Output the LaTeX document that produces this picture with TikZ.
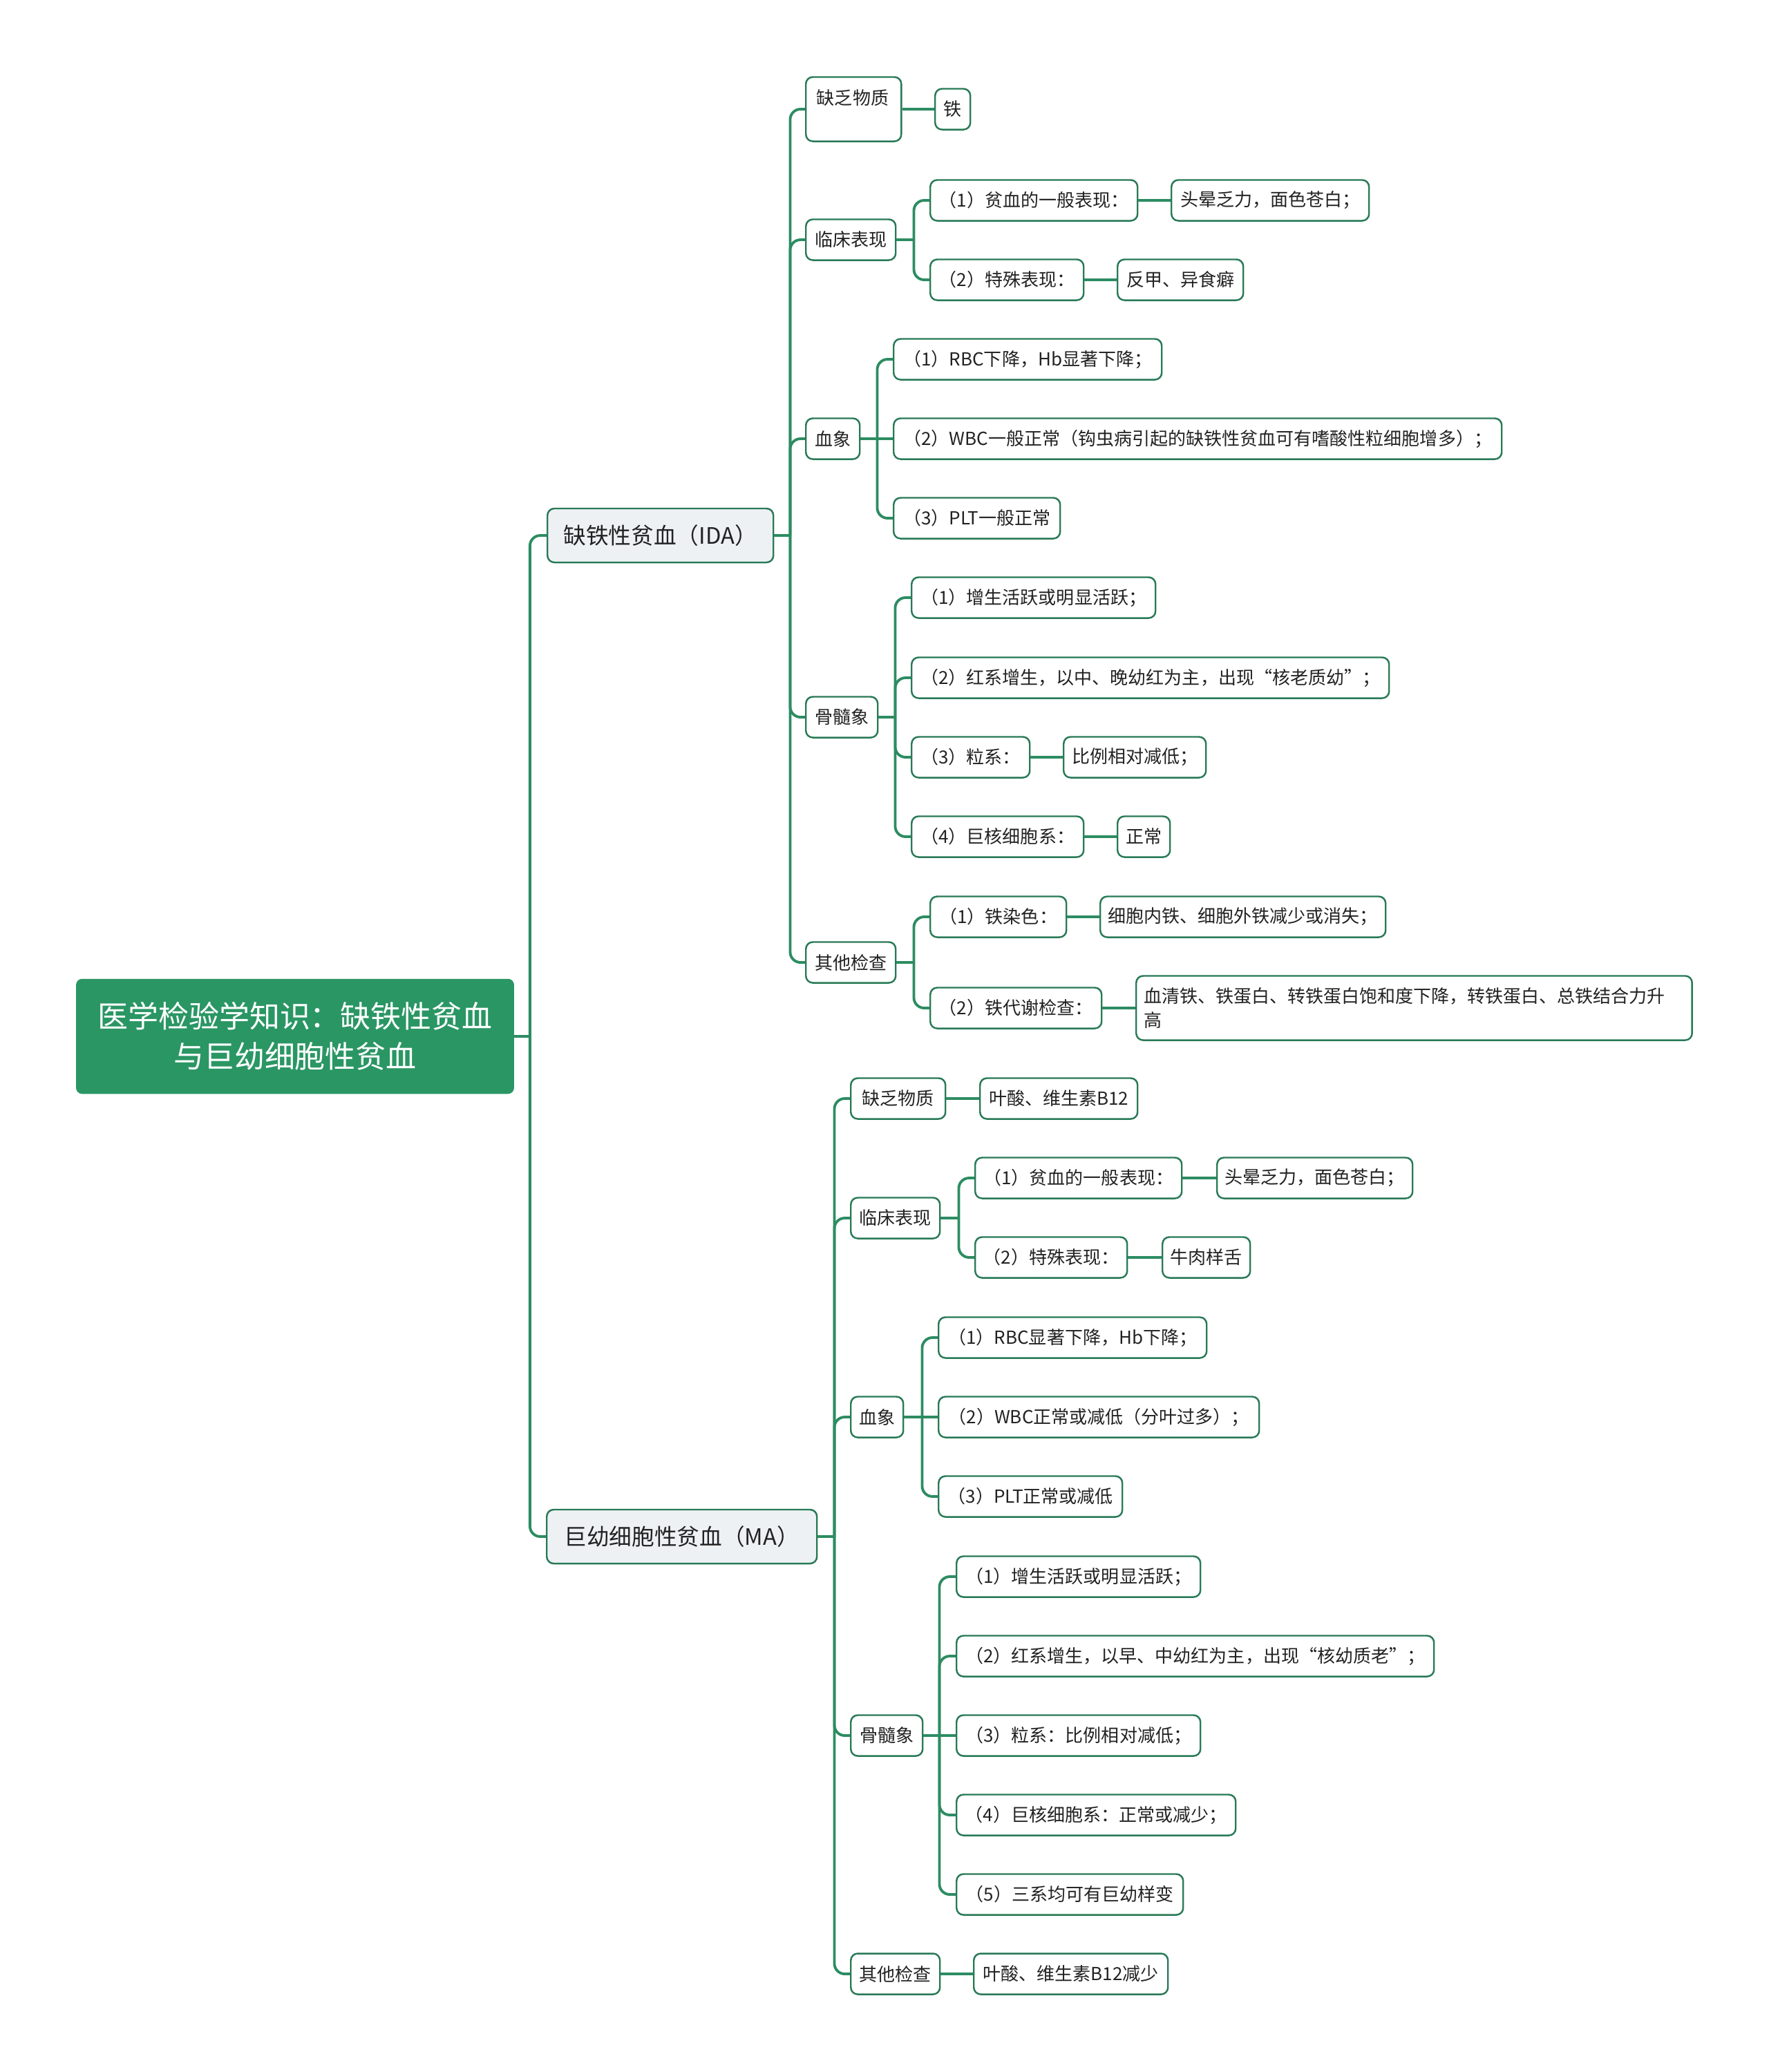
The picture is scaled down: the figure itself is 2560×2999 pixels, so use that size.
\documentclass[tikz,border=0pt]{standalone}
\usepackage{fontspec}
\setmainfont{Noto Sans CJK SC}
\definecolor{linegreen}{RGB}{45,140,98}
\definecolor{bordergreen}{RGB}{40,122,86}
\definecolor{rootgreen}{RGB}{42,150,100}
\definecolor{lvlgrey}{RGB}{238,241,244}
\definecolor{textc}{RGB}{34,34,34}
\tikzset{
  box/.style={draw=bordergreen, line width=0.7pt, fill=white, rounded corners=0.1cm,
    inner xsep=0pt, inner ysep=0pt, minimum height=0.59cm, anchor=west,
    font=\fontsize{7.4pt}{9pt}\selectfont, text=textc},
  lvlone/.style={box, fill=lvlgrey, minimum height=0.78cm, font=\fontsize{9.3pt}{11pt}\selectfont},
  rootbox/.style={fill=rootgreen, draw=rootgreen, rounded corners=0.08cm, text=white,
    minimum width=6.32cm, minimum height=1.65cm, align=center,
    font=\fontsize{12.5pt}{16.5pt}\selectfont},
  plaintxt/.style={font=\fontsize{7.4pt}{9pt}\selectfont, text=textc, inner sep=0pt},
  link/.style={draw=linegreen, line width=1.1pt},
  curvelink/.style={link, rounded corners=0.15cm},
}
\newcommand\nd[6][]{\node[box,#1,minimum width=#5*0.01cm] (#2) at (#3,#4) {#6};}
\newcommand\fork[3]{%
  \path (#1.east) ++(#2,0) coordinate (#1j);
  \draw[link] (#1.east) -- (#1j);
  \foreach \c in {#3} {\draw[curvelink] (#1j) |- (\c.west);}
}
\begin{document}
\begin{tikzpicture}[x=0.01cm,y=-0.01cm]
\useasboundingbox (0,0) rectangle (2560,2999);
\fill[white] (0,0) rectangle (2560,2999);

% root
\node[rootbox] (root) at (427,1500) {医学检验学知识：缺铁性贫血\\与巨幼细胞性贫血};

% level 1
\nd[lvlone]{ida}{791}{775}{327}{缺铁性贫血（IDA）}
\nd[lvlone]{ma}{790}{2224}{391}{巨幼细胞性贫血（MA）}

% ---------- IDA ----------
\node[box, minimum width=1.38cm, minimum height=0.93cm] (i1) at (1165,158) {};
\node[plaintxt] (i1t) at (1234,142) {缺乏物质};
\nd{i1a}{1352}{158}{51}{铁}

\nd{i2}{1165}{347}{130}{临床表现}
\nd{i2a}{1345}{290}{300}{（1）贫血的一般表现：}
\nd{i2a1}{1694}{290}{286}{头晕乏力，面色苍白；}
\nd{i2b}{1345}{405}{222}{（2）特殊表现：}
\nd{i2b1}{1616}{405}{182}{反甲、异食癖}

\nd{i3}{1165}{635}{78}{血象}
\nd{i3a}{1292}{520}{388}{（1）RBC下降，Hb显著下降；}
\nd{i3b}{1292}{635}{880}{（2）WBC一般正常（钩虫病引起的缺铁性贫血可有嗜酸性粒细胞增多）；}
\nd{i3c}{1292}{750}{241}{（3）PLT一般正常}

\nd{i4}{1165}{1038}{104}{骨髓象}
\nd{i4a}{1318}{865}{353}{（1）增生活跃或明显活跃；}
\nd{i4b}{1318}{981}{691}{（2）红系增生，以中、晚幼红为主，出现“核老质幼”；}
\nd{i4c}{1318}{1096}{171}{（3）粒系：}
\nd{i4c1}{1538}{1096}{206}{比例相对减低；}
\nd{i4d}{1318}{1211}{249}{（4）巨核细胞系：}
\nd{i4d1}{1616}{1211}{76}{正常}

\nd{i5}{1165}{1393}{130}{其他检查}
\nd{i5a}{1345}{1327}{197}{（1）铁染色：}
\nd{i5a1}{1591}{1327}{413}{细胞内铁、细胞外铁减少或消失；}
\nd{i5b}{1345}{1459}{248}{（2）铁代谢检查：}
\node[box, minimum height=0.93cm, inner xsep=0.11cm, text width=7.82cm, align=left,
  font=\fontsize{7.4pt}{10pt}\selectfont] (i5b1) at (1643,1459)
  {血清铁、铁蛋白、转铁蛋白饱和度下降，转铁蛋白、总铁结合力升\\高};

% ---------- MA ----------
\nd{m1}{1230}{1590}{137}{缺乏物质}
\nd{m1a}{1417}{1590}{228}{叶酸、维生素B12}

\nd{m2}{1230}{1763}{129}{临床表现}
\nd{m2a}{1410}{1705}{299}{（1）贫血的一般表现：}
\nd{m2a1}{1760}{1705}{283}{头晕乏力，面色苍白；}
\nd{m2b}{1410}{1820}{220}{（2）特殊表现：}
\nd{m2b1}{1681}{1820}{127}{牛肉样舌}

\nd{m3}{1230}{2051}{76}{血象}
\nd{m3a}{1357}{1936}{388}{（1）RBC显著下降，Hb下降；}
\nd{m3b}{1357}{2051}{464}{（2）WBC正常或减低（分叶过多）；}
\nd{m3c}{1357}{2166}{266}{（3）PLT正常或减低}

\nd{m4}{1230}{2512}{104}{骨髓象}
\nd{m4a}{1383}{2282}{353}{（1）增生活跃或明显活跃；}
\nd{m4b}{1383}{2397}{691}{（2）红系增生，以早、中幼红为主，出现“核幼质老”；}
\nd{m4c}{1383}{2512}{353}{（3）粒系：比例相对减低；}
\nd{m4d}{1383}{2627}{404}{（4）巨核细胞系：正常或减少；}
\nd{m4e}{1383}{2742}{328}{（5）三系均可有巨幼样变}

\nd{m5}{1230}{2857}{129}{其他检查}
\nd{m5a}{1408}{2857}{281}{叶酸、维生素B12减少}

% ---------- connectors ----------
\fork{root}{23}{ida,ma}
\fork{ida}{23}{i1,i2,i3,i4,i5}
\fork{ma}{24}{m1,m2,m3,m4,m5}
\draw[link] (i1.east) -- (i1a.west);
\fork{i2}{25}{i2a,i2b}
\draw[link] (i2a.east) -- (i2a1.west);
\draw[link] (i2b.east) -- (i2b1.west);
\fork{i3}{24}{i3a,i3c}
\draw[link] (i3.east) -- (i3b.west);
\fork{i4}{24}{i4a,i4b,i4c,i4d}
\draw[link] (i4c.east) -- (i4c1.west);
\draw[link] (i4d.east) -- (i4d1.west);
\fork{i5}{25}{i5a,i5b}
\draw[link] (i5a.east) -- (i5a1.west);
\draw[link] (i5b.east) -- (i5b1.west);

\draw[link] (m1.east) -- (m1a.west);
\fork{m2}{26}{m2a,m2b}
\draw[link] (m2a.east) -- (m2a1.west);
\draw[link] (m2b.east) -- (m2b1.west);
\fork{m3}{26}{m3a,m3c}
\draw[link] (m3.east) -- (m3b.west);
\fork{m4}{23}{m4a,m4b,m4d,m4e}
\draw[link] (m4.east) -- (m4c.west);
\draw[link] (m5.east) -- (m5a.west);
\end{tikzpicture}
\end{document}
